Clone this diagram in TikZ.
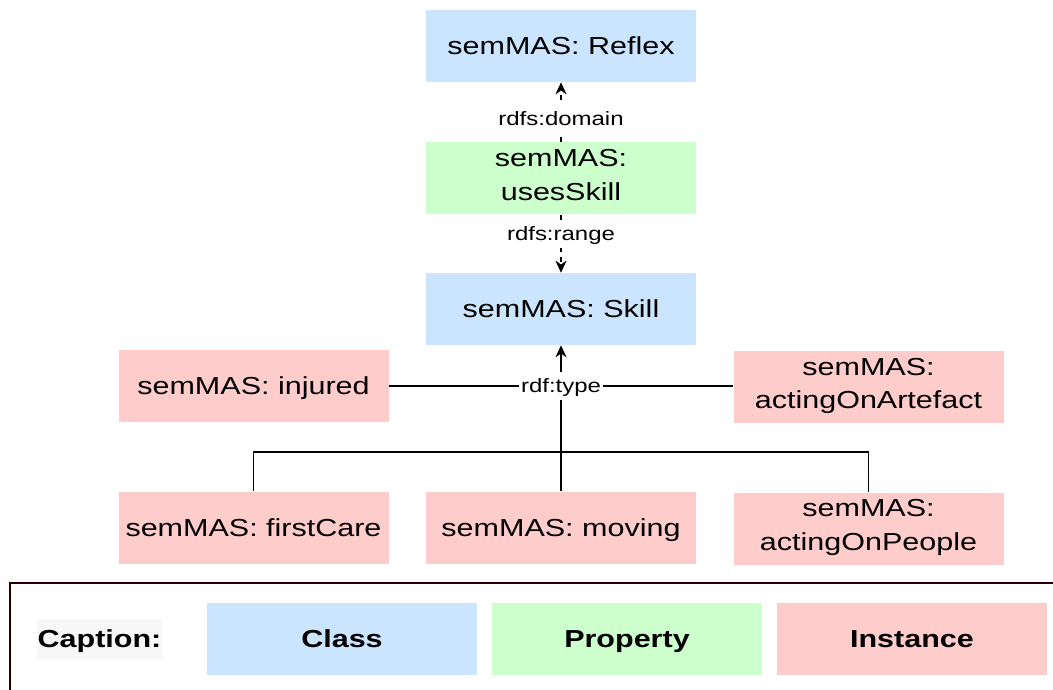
\documentclass[tikz,border=0pt]{standalone}
\usepackage{fontspec}
\setmainfont{Liberation Sans}[FakeStretch=1.24]
\usetikzlibrary{arrows.meta,calc}

\definecolor{classblue}{HTML}{CCE5FF}
\definecolor{propgreen}{HTML}{CCFFCC}
\definecolor{instred}{HTML}{FFCCCC}

\newcommand{\boxstrut}{\rule[-4pt]{0pt}{18pt}}
\newcommand{\relstrut}{\rule[-3pt]{0pt}{13.9pt}}

\tikzset{
  box/.style={minimum width=5.4cm, minimum height=1.44cm, inner sep=0pt,
    align=center, font=\fontsize{14}{19}\selectfont,
    execute at begin node=\boxstrut, execute at end node=\boxstrut},
  classbox/.style={box, fill=classblue},
  propbox/.style={box, fill=propgreen},
  instbox/.style={box, fill=instred},
  keybox/.style={box, font=\fontsize{14}{19}\selectfont\bfseries},
  rel/.style={font=\fontsize{11}{13}\selectfont, fill=white, inner sep=1pt,
    execute at begin node=\relstrut},
  link/.style={line width=1pt},
  tip/.style={-{Stealth[length=2.4mm,width=2.2mm]}},
}

\begin{document}
\begin{tikzpicture}
\useasboundingbox (0,0) rectangle (21.06,-13.8);

% Ontology nodes
\node[classbox] (reflex) at (11.22,-0.92) {semMAS: Reflex};
\node[propbox] (uses) at (11.22,-3.57) {semMAS:\\usesSkill};
\node[classbox] (skill) at (11.22,-6.18) {semMAS: Skill};

% Instances
\node[instbox] (injured) at (5.07,-7.72) {semMAS: injured};
\node[instbox] (artefact) at (17.37,-7.74) {semMAS:\\actingOnArtefact};
\node[instbox] (firstcare) at (5.07,-10.55) {semMAS: firstCare};
\node[instbox] (moving) at (11.22,-10.55) {semMAS: moving};
\node[instbox] (people) at (17.37,-10.57) {semMAS:\\actingOnPeople};

% Domain and range
\draw[link, tip, dash pattern=on 3pt off 3pt] (uses.north) -- (reflex.south)
  node[rel, pos=0.4] (domain) {rdfs:domain};
\draw[link, tip, dash pattern=on 3pt off 3pt] (uses.south) -- (skill.north)
  node[rel, pos=0.33] (range) {rdfs:range};

% rdf:type links
\coordinate (fork) at ($(moving.north)+(0,0.78)$);
\draw[link] (injured.east) -- (injured.east -| artefact.west);
\draw[link] (firstcare.north) |- (fork) -| (people.north);
\draw[link, tip] (moving.north) -- (skill.south);
\node[rel] (type) at (moving.north |- injured.east) {rdf:type};

% Caption
\draw[line width=1.7pt, black!85!red] (0.2,-13.95) -- (0.2,-11.66) -- (21.3,-11.66);
\node[fill=gray!6, minimum width=2.5cm, minimum height=0.8cm, inner sep=0pt,
  font=\fontsize{14}{19}\selectfont\bfseries, execute at begin node=\boxstrut]
  (caption) at (1.99,-12.78) {Caption:};
\node[keybox, fill=classblue] (class) at (6.84,-12.78) {Class};
\node[keybox, fill=propgreen] (property) at (12.54,-12.78) {Property};
\node[keybox, fill=instred] (instance) at (18.24,-12.78) {Instance};
\end{tikzpicture}
\end{document}
